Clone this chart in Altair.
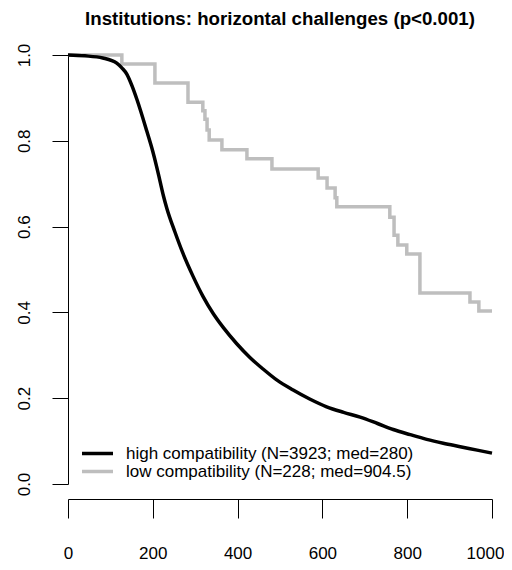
import altair as alt
import pandas as pd

TITLE = "Institutions: horizontal challenges (p<0.001)"
GROUPS = ["high compatibility (N=3923; med=280)", "low compatibility (N=228; med=904.5)"]
COLORS = ["#000000", "#BEBEBE"]

# high compatibility survival curve
high_t = [0, 40, 82, 115, 127, 139, 151, 163, 186, 200, 209, 217, 225, 233, 252, 271, 295,
          318, 342, 366, 398, 429, 460, 493, 531, 570, 610, 650, 689, 730, 767, 807, 846,
          885, 925, 965, 1000]
high_s = [1.0, 0.998, 0.993, 0.981, 0.970, 0.955, 0.928, 0.895, 0.822, 0.775, 0.740, 0.706,
          0.672, 0.643, 0.588, 0.538, 0.484, 0.438, 0.398, 0.365, 0.327, 0.295, 0.268, 0.242,
          0.219, 0.198, 0.180, 0.167, 0.156, 0.141, 0.127, 0.115, 0.104, 0.095, 0.087, 0.079,
          0.072]

# low compatibility step curve
low_t = [0, 127, 205, 283, 318, 323, 328, 333, 363, 422, 481, 590, 611, 630, 634, 759, 769,
         778, 799, 830, 948, 969, 1000]
low_s = [1.0, 0.979, 0.935, 0.890, 0.870, 0.850, 0.825, 0.802, 0.779, 0.758, 0.734, 0.713,
         0.690, 0.667, 0.646, 0.622, 0.580, 0.557, 0.536, 0.445, 0.424, 0.403, 0.403]

x_ticks = [0, 200, 400, 600, 800, 1000]
y_ticks = [0.0, 0.2, 0.4, 0.6, 0.8, 1.0]

df_high = pd.DataFrame({"time": high_t, "surv": high_s, "group": GROUPS[0]})
df_low = pd.DataFrame({"time": low_t, "surv": low_s, "group": GROUPS[1]})

FONT = "Liberation Sans"

x_enc = alt.X("time:Q", scale=alt.Scale(domain=[0, 1000], nice=False, zero=False),
              axis=alt.Axis(values=x_ticks, title=None, grid=False, offset=15, tickSize=19,
                            labelPadding=27, labelFlush=False, labelFontSize=17, labelFont=FONT,
                            labelColor="black", domainColor="black", tickColor="black",
                            labelOverlap=False, format="d",
                            labelOffset={"condition": {"test": "datum.value === 1000", "value": -7},
                                         "value": 0}))
y_enc = alt.Y("surv:Q", scale=alt.Scale(domain=[0, 1], nice=False, zero=False),
              axis=alt.Axis(values=y_ticks, title=None, grid=False, tickSize=16,
                            labelPadding=23, labelAngle=270, labelAlign="center",
                            labelBaseline="alphabetic", labelFontSize=17, labelFont=FONT,
                            labelColor="black", domainColor="black", tickColor="black",
                            labelOverlap=False, labelFlush=False, format=".1f"))
color_enc = alt.Color("group:N", sort=GROUPS,
                      scale=alt.Scale(domain=GROUPS, range=COLORS),
                      legend=alt.Legend(title=None, orient="none", legendX=21, legendY=390,
                                        symbolType="M-5,0L5,0", symbolSize=38.44,
                                        symbolStrokeWidth=3.5, labelFontSize=17, labelFont=FONT,
                                        labelColor="black", labelOffset=20, rowPadding=0,
                                        padding=0, labelLimit=400))

high = alt.Chart(df_high).mark_line(strokeWidth=3.5, interpolate="monotone").encode(
    x=x_enc, y=y_enc, color=color_enc)
low = alt.Chart(df_low).mark_line(strokeWidth=3.5, interpolate="step-after").encode(
    x=x_enc, y=y_enc, color=color_enc)

chart = alt.layer(low, high).properties(
    width=424, height=429,
    title=alt.TitleParams(TITLE, font=FONT, fontSize=18.7, fontWeight="bold", color="black",
                          anchor="middle", offset=14),
    autosize=alt.AutoSizeParams(type="none"),
    padding={"left": 60, "top": 47, "right": 12, "bottom": 78},
).configure_view(stroke=None)

chart.save("out.html", embed_options={"renderer": "svg", "actions": False})
